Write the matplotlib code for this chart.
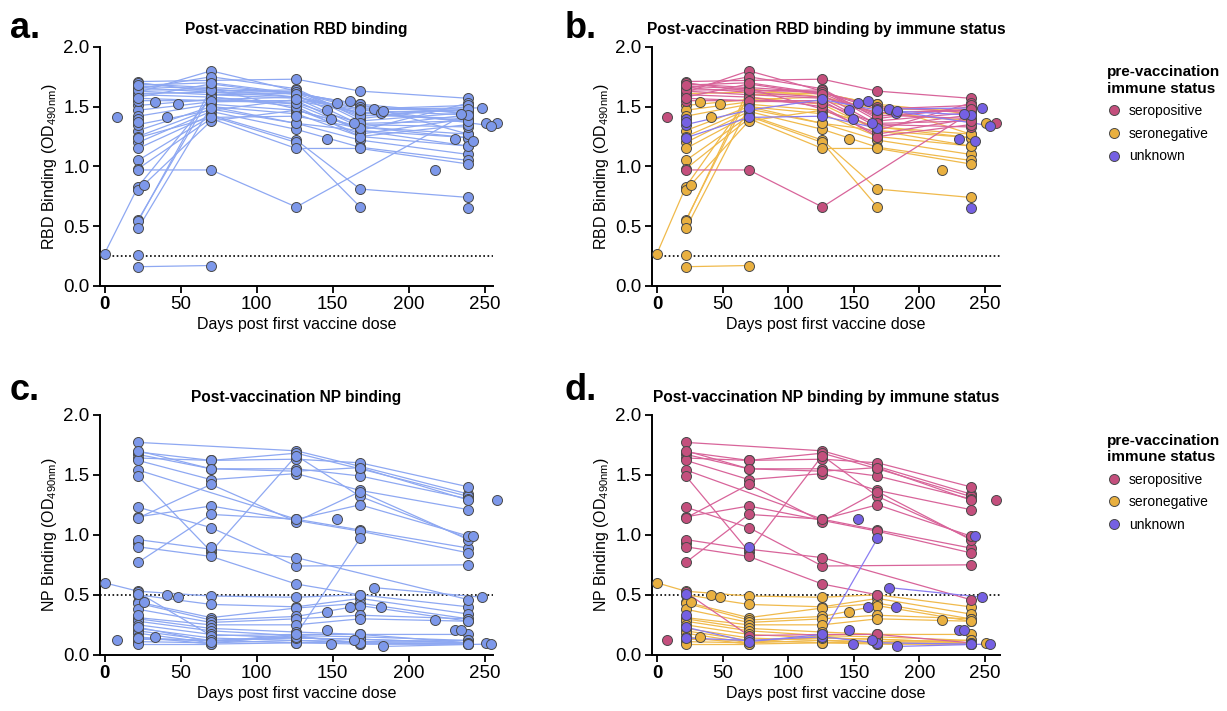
import numpy as np
import matplotlib
matplotlib.use('Agg')
import matplotlib.pyplot as plt
from matplotlib.lines import Line2D

plt.rcParams['font.family'] = ['Liberation Sans', 'DejaVu Sans']

D = [22, 70, 126, 168, 239]

# one entry per participant: pre-vaccination status, sampling days, RBD OD, NP OD
status = []
days = []
rbd = []
npod = []

def subj(s, d, r, n):
    status.append(s); days.append(d); rbd.append(r); npod.append(n)

# seropositive
subj('pos', D, [1.69, 1.66, 1.62, 1.50, 1.45], [1.77, None, 1.70, 1.57, 1.34])
subj('pos', D, [1.62, 1.80, 1.63, 1.43, 1.40], [1.69, 1.62, 1.68, 1.55, 1.32])
subj('pos', D, [1.71, 1.72, 1.73, 1.63, 1.57], [1.67, 1.55, 1.55, 1.49, 1.30])
subj('pos', D, [1.65, 1.75, 1.65, 1.40, 1.50], [1.64, 1.62, 1.63, 1.60, 1.40])
subj('pos', D, [1.58, 1.69, 1.60, 1.35, 1.33], [1.62, 1.46, 1.51, 1.37, 1.21])
subj('pos', D, [1.55, None, 1.55, 1.30, 1.53], [1.54, None, 1.13, 1.04, 0.89])
subj('pos', D, [1.67, 1.65, 1.48, 1.27, 1.40], [1.49, 0.86, 1.66, 1.32, 0.97])
subj('pos', D, [1.66, 1.62, 1.58, 1.45, 1.47], [1.23, 1.06, 0.74, None, 0.75])
subj('pos', D, [1.70, 1.63, 1.64, 1.38, 1.45], [1.15, 1.24, 1.12, 1.03, 0.85])
subj('pos', D, [1.63, 1.60, 1.57, 1.33, 1.43], [1.14, 1.42, 1.11, 1.36, 0.96])
subj('pos', D, [1.60, 1.58, 1.50, 1.25, 1.35], [0.96, 0.88, 0.81, None, 0.46])
subj('pos', D, [0.97, 0.97, 0.66, None, 1.45], [0.90, 0.82, 0.59, 0.50, None])
subj('pos', D, [1.64, 1.64, 1.62, 1.48, 1.51], [0.77, 1.17, 1.13, 1.25, 0.99])
subj('pos', D, [1.68, 1.70, 1.61, 1.42, 1.48], [1.70, 1.55, 1.53, 1.56, 1.29])
subj('pos', D, [1.57, 1.55, 1.53, 1.36, 1.38], [0.52, 0.16, 0.17, 0.17, 0.10])
subj('pos', [8], [1.41], [0.12])
subj('pos', [258], [1.36], [1.29])

# seronegative
subj('neg', [0] + D, [0.27, 0.83, 1.58, 1.52, 1.30, 1.24], [0.60, 0.53, 0.49, 0.48, 0.50, 0.40])
subj('neg', D, [1.61, 1.62, 1.61, 1.52, 1.44], [0.50, 0.42, 0.40, 0.47, 0.34])
subj('neg', D, [1.51, 1.56, 1.58, 1.48, 1.47], [0.44, 0.31, 0.39, 0.43, 0.30])
subj('neg', D, [1.47, 1.54, 1.55, 1.45, 1.38], [0.43, 0.29, 0.32, 0.41, 0.28])
subj('neg', D, [1.42, 1.52, 1.47, 1.33, 1.27], [0.38, 0.27, 0.30, 0.33, 0.30])
subj('neg', D, [1.30, 1.50, 1.44, 1.25, 1.17], [0.31, 0.25, 0.25, 0.30, 0.28])
subj('neg', D, [1.25, 1.48, 1.36, 1.22, 1.10], [0.30, 0.22, 0.19, 0.17, 0.17])
subj('neg', D, [1.20, 1.46, 1.31, 1.16, 1.05], [0.28, 0.20, 0.16, 0.15, 0.12])
subj('neg', D, [1.15, 1.43, 1.22, 0.81, 0.74], [0.25, 0.17, 0.14, 0.13, 0.10])
subj('neg', D, [1.05, 1.42, 1.20, 0.66, None], [0.22, 0.14, 0.12, 0.11, None])
subj('neg', D, [0.98, 1.40, 1.15, 1.15, 1.02], [0.20, 0.12, 0.10, 0.09, 0.09])
subj('neg', D, [0.80, 1.38, 1.47, 1.33, 1.24], [0.18, 0.10, 0.12, 0.10, 0.10])
subj('neg', D, [0.55, 1.60, 1.61, 1.52, 1.27], [0.15, 0.09, 0.10, 0.11, 0.12])
subj('neg', D, [0.54, 1.65, 1.58, 1.45, 1.38], [0.13, 0.12, 0.14, 0.13, 0.10])
subj('neg', D, [0.48, 1.50, 1.36, 1.30, 1.17], [0.11, 0.10, 0.16, 0.09, 0.09])
subj('neg', [22, 70], [0.16, 0.17], [0.09, 0.09])
subj('neg', [22], [0.26], [0.93])
subj('neg', [26], [0.84], [0.44])
subj('neg', [33], [1.54], [0.15])
subj('neg', [41], [1.41], [0.50])
subj('neg', [48], [1.52], [0.48])
subj('neg', [146], [1.23], [0.36])
subj('neg', [217], [0.97], [0.29])
subj('neg', [251], [1.36], [0.10])

# unknown
subj('unk', D, [1.35, 1.47, 1.56, 1.47, 1.43], [0.14, 0.12, 0.15, 0.10, 0.09])
subj('unk', [22, 70, 126, 168], [1.24, 1.41, 1.42, 1.32], [0.23, 0.11, 0.17, 0.97])
subj('unk', [22], [1.40], [0.51])
subj('unk', [22], [1.37], [0.33])
subj('unk', [70], [1.49], [0.90])
subj('unk', [146], [1.47], [0.21])
subj('unk', [149], [1.40], [0.09])
subj('unk', [153], [1.53], [1.13])
subj('unk', [161], [1.55], [0.40])
subj('unk', [164], [1.36], [0.12])
subj('unk', [177, 248], [1.48, 1.49], [0.56, 0.48])
subj('unk', [182], [1.45], [0.40])
subj('unk', [183, 254], [1.46, 1.34], [0.07, 0.09])
subj('unk', [230], [1.23], [0.21])
subj('unk', [234], [1.44], [0.21])
subj('unk', [239], [0.65], [0.09])
subj('unk', [242], [1.21], [0.99])

labels = {'pos': 'seropositive', 'neg': 'seronegative', 'unk': 'unknown'}
fill = {'pos': '#c44f7d', 'neg': '#e9b040', 'unk': '#7560e3'}
line = {'pos': '#d8649a', 'neg': '#f0ba4c', 'unk': '#8a7df2'}
blue_fill = '#7d98ea'
blue_line = '#8ea8f2'


def draw(ax, values, colored, cutoff, ylabel, title, xlim):
    for grp in ['neg', 'pos', 'unk']:
        for i in range(len(status)):
            if status[i] != grp:
                continue
            d = np.array(days[i], dtype=float)
            v = np.array([np.nan if x is None else x for x in values[i]])
            m = ~np.isnan(v)
            lc = line[grp] if colored else blue_line
            fc = fill[grp] if colored else blue_fill
            ax.plot(d[m], v[m], '-', color=lc, lw=0.9, zorder=2, clip_on=False)
            ax.plot(d[m], v[m], 'o', ms=7.2, mfc=fc, mec='#4a4a4a', mew=0.7,
                    zorder=3, clip_on=False)
    ax.axhline(cutoff, color='black', ls=(0, (1, 1.5)), lw=1.2, zorder=1)
    ax.set_xlim(*xlim)
    ax.set_ylim(0, 2.0)
    ax.set_xticks([0, 50, 100, 150, 200, 250])
    ax.set_yticks([0, 0.5, 1.0, 1.5, 2.0])
    ax.set_yticklabels(['0.0', '0.5', '1.0', '1.5', '2.0'])
    ax.get_xticklabels()[0].set_fontweight('bold')
    ax.tick_params(labelsize=13.5, width=1.3, length=5, pad=2.5)
    for s in ['top', 'right']:
        ax.spines[s].set_visible(False)
    for s in ['left', 'bottom']:
        ax.spines[s].set_linewidth(1.4)
    ax.set_xlabel('Days post first vaccine dose', fontsize=11.5, labelpad=3)
    ax.set_ylabel(ylabel, fontsize=11.5, labelpad=3)
    ax.set_title(title, fontsize=11.2, fontweight='bold', pad=9)


fig = plt.figure(figsize=(12.27, 7.11), dpi=100)
ax_a = fig.add_axes([100 / 1227, 0.598, 393 / 1227, 0.336])
ax_b = fig.add_axes([652 / 1227, 0.598, 348 / 1227, 0.336])
ax_c = fig.add_axes([100 / 1227, 0.079, 393 / 1227, 0.3376])
ax_d = fig.add_axes([652 / 1227, 0.079, 348 / 1227, 0.3376])

rbd_lab = 'RBD Binding (OD$_{\\mathregular{490nm}}$)'
np_lab = 'NP Binding (OD$_{\\mathregular{490nm}}$)'
draw(ax_a, rbd, False, 0.25, rbd_lab, 'Post-vaccination RBD binding', (-3, 255.3))
draw(ax_b, rbd, True, 0.25, rbd_lab, 'Post-vaccination RBD binding by immune status', (-3.8, 261.4))
draw(ax_c, npod, False, 0.5, np_lab, 'Post-vaccination NP binding', (-3, 255.3))
draw(ax_d, npod, True, 0.5, np_lab, 'Post-vaccination NP binding by immune status', (-3.8, 261.4))

handles = [Line2D([], [], ls='', marker='o', ms=7.2, mfc=fill[k], mec='#4a4a4a',
                  mew=0.7, label=labels[k]) for k in ['pos', 'neg', 'unk']]
for y in [0.908, 0.39]:
    leg = fig.legend(handles=handles, loc='upper left', bbox_to_anchor=(0.902, y),
                     frameon=False, fontsize=10, title='pre-vaccination\nimmune status',
                     title_fontproperties={'weight': 'bold', 'size': 11},
                     handlelength=1.0, handletextpad=0.6, labelspacing=0.62,
                     borderaxespad=0, borderpad=0)
    leg._legend_box.align = 'left'

for lab, x, y in [('a.', 0.008, 0.985), ('b.', 0.46, 0.985), ('c.', 0.008, 0.475), ('d.', 0.46, 0.475)]:
    fig.text(x, y, lab, fontsize=26, fontweight='bold', va='top')

fig.savefig('out.png', dpi=100)
